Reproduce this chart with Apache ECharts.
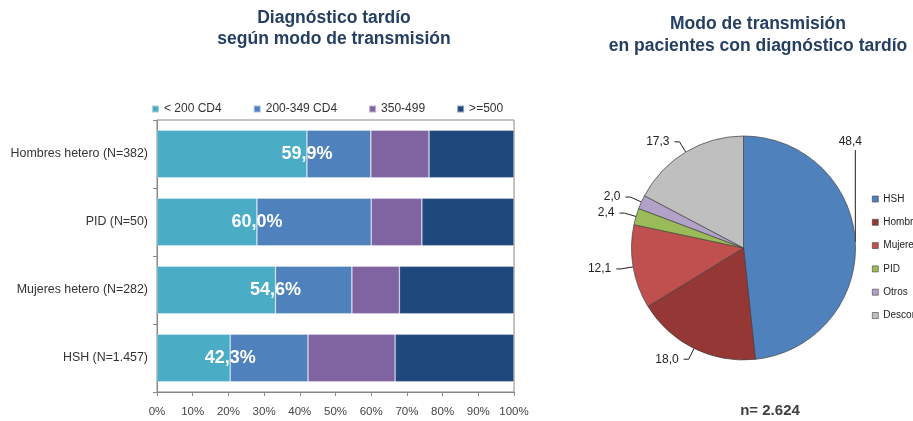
<!DOCTYPE html>
<html>
<head>
<meta charset="utf-8">
<title>Diagnóstico tardío</title>
<script src="https://cdn.jsdelivr.net/npm/echarts@6/dist/echarts.min.js"></script>
<style>
  html, body { margin: 0; padding: 0; background: #fff; }
  #chart { width: 913px; height: 421px; }
</style>
</head>
<body>
<div id="chart"></div>
<script>
// grupos de abajo arriba (el eje de categorías empieza por abajo)
const categories = ['HSH (N=1.457)', 'Mujeres hetero (N=282)', 'PID (N=50)', 'Hombres hetero (N=382)']
const cd4Names = ['< 200 CD4', '200-349 CD4', '350-499', '>=500']
const cd4Under200 = [20.5, 33.2, 28.0, 42.0]
const cd4From200 = [21.8, 21.4, 32.0, 17.9]
const cd4From350 = [24.4, 13.3, 14.2, 16.3]
const cd4Over500 = [33.3, 32.1, 25.8, 23.8]

const pieNames = ['HSH', 'Hombres hetero', 'Mujeres hetero', 'PID', 'Otros', 'Desconocido']
const pieValues = [48.4, 18.0, 12.1, 2.4, 2.0, 17.3]
const totalN = 'n= 2.624'

const barColors = ['#4bacc6', '#4f81bd', '#8064a2', '#1f497d']
const pieColors = ['#4f81bd', '#953735', '#c0504d', '#9bbb59', '#b3a2c7', '#bfbfbf']
const titleColor = '#253f63'

function comma(v) {
  return v.toFixed(1).replace('.', ',')
}

const chart = echarts.init(document.getElementById('chart'))

const cd4Data = [cd4Under200, cd4From200, cd4From350, cd4Over500]
const barSeries = cd4Names.map(function (name, i) {
  const s = {
    name: name,
    type: 'bar',
    stack: 'total',
    barWidth: '70%',
    data: cd4Data[i],
    itemStyle: { color: barColors[i], borderColor: 'rgba(255,255,255,0.5)', borderWidth: 0.6 }
  }
  if (i === 0) {
    // % con menos de 350 CD4
    s.label = {
      show: true,
      position: ['100%', '50%'],
      align: 'center',
      verticalAlign: 'middle',
      color: '#fff',
      fontSize: 18,
      fontWeight: 'bold',
      formatter: function (p) {
        return comma(cd4Under200[p.dataIndex] + cd4From200[p.dataIndex]) + '%'
      }
    }
  }
  return s
})

chart.setOption({
  animation: false,
  textStyle: { fontFamily: 'Liberation Sans, Arial, sans-serif' },
  title: [
    {
      text: 'Diagnóstico tardío\nsegún modo de transmisión',
      left: 334,
      top: 8,
      padding: 0,
      textAlign: 'center',
      textStyle: { color: titleColor, fontSize: 17.5, fontWeight: 'bold', lineHeight: 21 }
    },
    {
      text: 'Modo de transmisión\nen pacientes con diagnóstico tardío',
      left: 758,
      top: 13,
      padding: 0,
      textAlign: 'center',
      textStyle: { color: titleColor, fontSize: 17.5, fontWeight: 'bold', lineHeight: 22 }
    },
    {
      text: totalN,
      left: 770,
      top: 403,
      padding: 0,
      textAlign: 'center',
      textStyle: { color: '#404040', fontSize: 15, fontWeight: 'bold' }
    }
  ],
  legend: [
    {
      data: cd4Names,
      left: 151,
      top: 103,
      padding: 0,
      itemWidth: 7,
      itemHeight: 7,
      itemGap: 31,
      icon: 'rect',
      textStyle: { color: '#333', fontSize: 12 }
    },
    {
      data: pieNames,
      orient: 'vertical',
      left: 872,
      top: 194,
      padding: 0,
      itemWidth: 6,
      itemHeight: 6,
      itemGap: 13.3,
      icon: 'rect',
      itemStyle: { borderColor: '#404040', borderWidth: 0.6 },
      textStyle: { color: '#222', fontSize: 10 }
    }
  ],
  grid: {
    left: 157,
    right: 399,
    top: 120,
    bottom: 29,
    show: true,
    borderColor: '#888',
    borderWidth: 1
  },
  xAxis: {
    type: 'value',
    min: 0,
    max: 100,
    interval: 10,
    splitLine: { show: false },
    axisLine: { show: true, lineStyle: { color: '#888' } },
    axisTick: { show: true, length: 4, lineStyle: { color: '#888' } },
    axisLabel: { color: '#444', fontSize: 11.5, margin: 14, formatter: '{value}%' }
  },
  yAxis: {
    type: 'category',
    data: categories,
    axisLine: { show: true, lineStyle: { color: '#888' } },
    axisTick: { show: true, length: 4, lineStyle: { color: '#888' } },
    axisLabel: { color: '#333', fontSize: 12.4, margin: 9 }
  },
  series: barSeries.concat([
    {
      name: 'Modo de transmisión',
      type: 'pie',
      center: [743.5, 248],
      radius: 112,
      startAngle: 90,
      clockwise: true,
      data: pieNames.map(function (n, i) {
        return { name: n, value: pieValues[i], itemStyle: { color: pieColors[i] } }
      }),
      itemStyle: { borderColor: '#404040', borderWidth: 0.7 },
      label: {
        show: true,
        position: 'outside',
        color: '#222',
        fontSize: 12,
        formatter: function (p) { return comma(p.value) }
      },
      labelLine: {
        show: true,
        length: 12,
        length2: 5,
        lineStyle: { color: '#222', width: 1 }
      },
      labelLayout: function (p) {
        // la etiqueta de HSH va arriba, con línea vertical
        if (p.dataIndex !== 0 || !p.labelLinePoints) return {}
        const a = p.labelLinePoints[0]
        return {
          x: a[0] - 5,
          y: a[1] - 100,
          align: 'center',
          verticalAlign: 'middle',
          labelLinePoints: [a, [a[0], a[1] - 92], [a[0], a[1] - 92]]
        }
      }
    }
  ])
})
</script>
</body>
</html>
